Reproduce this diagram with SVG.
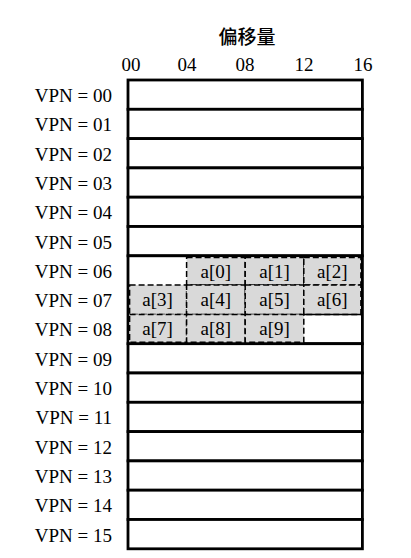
<svg xmlns="http://www.w3.org/2000/svg" width="411" height="558" viewBox="0 0 411 558">
<style>
.bg{fill:#ffffff}
.row{fill:#ffffff;stroke:#000;stroke-width:2.8}
.cell{fill:#d9d9d9;stroke:#000;stroke-width:1.5;stroke-dasharray:6 3}
.lbl{font-family:"Liberation Serif","Times New Roman",serif;font-size:19px;fill:#000}
.ttl{font-family:"Noto Sans CJK SC","Noto Sans CJK JP",sans-serif;font-size:19px;font-weight:500;fill:#000}
.thin{stroke:#000;stroke-width:1.5;fill:none}
</style>
<rect class="bg" x="0" y="0" width="411" height="558"/>
<g id="title"><text class="ttl" x="247" y="44" text-anchor="middle">偏移量</text></g>
<g id="offsets" class="lbl" text-anchor="middle">
<text x="131" y="71">00</text>
<text x="187" y="71">04</text>
<text x="245" y="71">08</text>
<text x="304" y="71">12</text>
<text x="363" y="71">16</text>
</g>
<g id="vpn-labels" class="lbl" text-anchor="end">
<text x="112" y="102">VPN = 00</text>
<text x="112" y="131.3">VPN = 01</text>
<text x="112" y="160.6">VPN = 02</text>
<text x="112" y="189.9">VPN = 03</text>
<text x="112" y="219.2">VPN = 04</text>
<text x="112" y="248.5">VPN = 05</text>
<text x="112" y="277.8">VPN = 06</text>
<text x="112" y="307.1">VPN = 07</text>
<text x="112" y="336.4">VPN = 08</text>
<text x="112" y="365.7">VPN = 09</text>
<text x="112" y="395">VPN = 10</text>
<text x="112" y="424.3">VPN = 11</text>
<text x="112" y="453.6">VPN = 12</text>
<text x="112" y="482.9">VPN = 13</text>
<text x="112" y="512.2">VPN = 14</text>
<text x="112" y="541.5">VPN = 15</text>
</g>
<g id="rows">
<rect id="row00" class="row" x="128" y="80" width="234.4" height="29.3"/>
<rect id="row01" class="row" x="128" y="109.3" width="234.4" height="29.3"/>
<rect id="row02" class="row" x="128" y="138.6" width="234.4" height="29.3"/>
<rect id="row03" class="row" x="128" y="167.9" width="234.4" height="29.3"/>
<rect id="row04" class="row" x="128" y="197.2" width="234.4" height="29.3"/>
<rect id="row05" class="row" x="128" y="226.5" width="234.4" height="29.3"/>
<rect id="row06-08" class="row" x="128" y="255.8" width="234.4" height="87.9"/>
<rect id="row09" class="row" x="128" y="343.7" width="234.4" height="29.3"/>
<rect id="row10" class="row" x="128" y="373" width="234.4" height="29.3"/>
<rect id="row11" class="row" x="128" y="402.3" width="234.4" height="29.3"/>
<rect id="row12" class="row" x="128" y="431.6" width="234.4" height="29.3"/>
<rect id="row13" class="row" x="128" y="460.9" width="234.4" height="29.3"/>
<rect id="row14" class="row" x="128" y="490.2" width="234.4" height="29.3"/>
<rect id="row15" class="row" x="128" y="519.5" width="234.4" height="29.3"/>
</g>
<g id="array">
<g id="a0"><rect class="cell" x="186.6" y="257.4" width="58.6" height="27.7"/><text class="lbl" x="215.9" y="277.5" text-anchor="middle">a[0]</text></g>
<g id="a1"><rect class="cell" x="245.2" y="257.4" width="58.6" height="27.7"/><text class="lbl" x="274.5" y="277.5" text-anchor="middle">a[1]</text></g>
<g id="a2"><rect class="cell" x="303.8" y="257.4" width="57.1" height="27.7"/><text class="lbl" x="332.4" y="277.5" text-anchor="middle">a[2]</text></g>
<g id="a3"><rect class="cell" x="129.6" y="285.1" width="57" height="29.3"/><text class="lbl" x="157.5" y="306" text-anchor="middle">a[3]</text></g>
<g id="a4"><rect class="cell" x="186.6" y="285.1" width="58.6" height="29.3"/><text class="lbl" x="215.9" y="306" text-anchor="middle">a[4]</text></g>
<g id="a5"><rect class="cell" x="245.2" y="285.1" width="58.6" height="29.3"/><text class="lbl" x="274.5" y="306" text-anchor="middle">a[5]</text></g>
<g id="a6"><rect class="cell" x="303.8" y="285.1" width="57.1" height="29.3"/><text class="lbl" x="332.4" y="306" text-anchor="middle">a[6]</text></g>
<g id="a7"><rect class="cell" x="129.6" y="314.4" width="57" height="27.8"/><text class="lbl" x="157.5" y="335.3" text-anchor="middle">a[7]</text></g>
<g id="a8"><rect class="cell" x="186.6" y="314.4" width="58.6" height="27.8"/><text class="lbl" x="215.9" y="335.3" text-anchor="middle">a[8]</text></g>
<g id="a9"><rect class="cell" x="245.2" y="314.4" width="58.6" height="27.8"/><text class="lbl" x="274.5" y="335.3" text-anchor="middle">a[9]</text></g>
<line class="thin" x1="303.8" y1="314.4" x2="361" y2="314.4"/>
</g>
</svg>
